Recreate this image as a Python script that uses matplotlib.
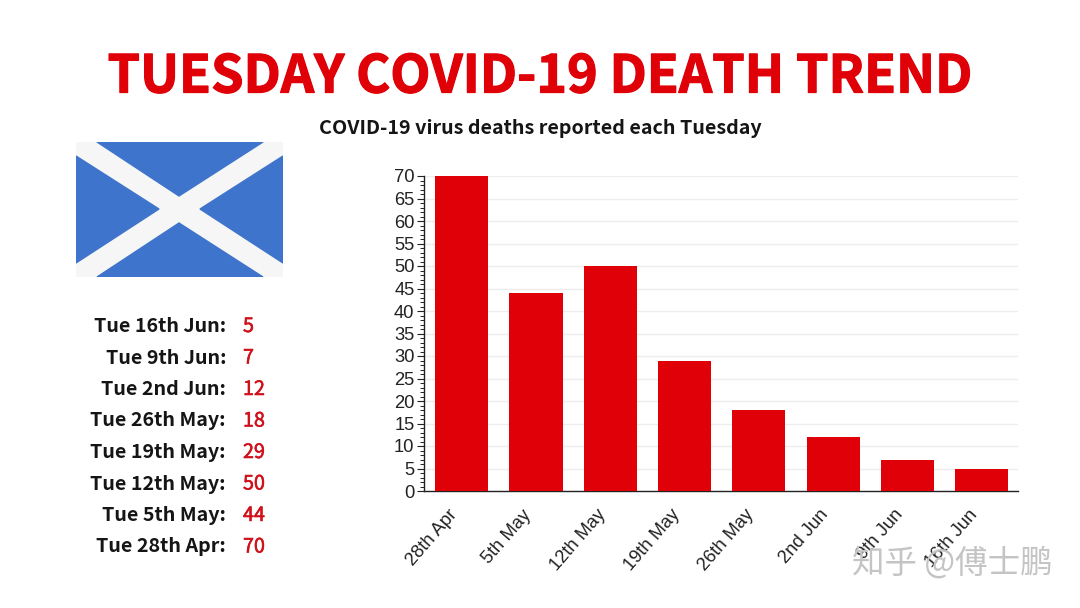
import matplotlib
matplotlib.use('Agg')
import matplotlib.pyplot as plt
import matplotlib.patheffects as pe
from matplotlib.patches import Polygon, Rectangle
from matplotlib.ticker import MultipleLocator
from matplotlib.transforms import ScaledTranslation

W, H = 1080, 608

# chart data
dates = ['28th Apr', '5th May', '12th May', '19th May', '26th May', '2nd Jun', '9th Jun', '16th Jun']
deaths = [70, 44, 50, 29, 18, 12, 7, 5]

# list on the left, newest first
list_dates = ['Tue 16th Jun:', 'Tue 9th Jun:', 'Tue 2nd Jun:', 'Tue 26th May:',
              'Tue 19th May:', 'Tue 12th May:', 'Tue 5th May:', 'Tue 28th Apr:']
list_values = [5, 7, 12, 18, 29, 50, 44, 70]

RED = '#e00007'
CJK = ['Noto Sans CJK SC', 'DejaVu Sans']


# axes from pixel box, y counted from the top of the picture
def px_axes(fig, x0, y0, x1, y1):
    return fig.add_axes([x0 / W, 1 - y1 / H, (x1 - x0) / W, (y1 - y0) / H])


def fig_text(fig, x, y, s, **kw):
    return fig.text(x / W, 1 - y / H, s, **kw)


fig = plt.figure(figsize=(W / 100, H / 100), dpi=100, facecolor='white')

fig_text(fig, 540, 77, 'TUESDAY COVID-19 DEATH TREND', family=CJK, weight='black',
         fontsize=37.5, color=RED, ha='center', va='center',
         path_effects=[pe.withStroke(linewidth=0.9, foreground=RED)])
fig_text(fig, 540, 128, 'COVID-19 virus deaths reported each Tuesday', family=CJK,
         weight='bold', fontsize=14.2, color='#151515', ha='center', va='center')

# bars
ax = px_axes(fig, 423.5, 176, 1018, 491)
x = list(range(len(dates)))
ax.bar(x, deaths, width=0.715, color=RED, zorder=3)
ax.set_xlim(-0.513, 7.487)
ax.set_ylim(0, 70)
ax.yaxis.set_major_locator(MultipleLocator(5))
ax.yaxis.set_minor_locator(MultipleLocator(1))
ax.grid(axis='y', color='#ededed', lw=1, zorder=0)
ax.set_axisbelow(True)
for s in ['top', 'right']:
    ax.spines[s].set_visible(False)
for s in ['left', 'bottom']:
    ax.spines[s].set_color('#222222')
    ax.spines[s].set_linewidth(1)
ax.tick_params(axis='y', which='major', length=5, width=0.8, color='#222222', pad=1.5)
ax.tick_params(axis='y', which='minor', length=3, width=0.7, color='#222222')
ax.tick_params(axis='x', length=0, pad=11)
ax.set_xticks(x)
ax.set_xticklabels(dates, rotation=49, ha='right', va='top', rotation_mode='anchor')
for lab in ax.get_yticklabels():
    lab.set_family('Liberation Sans')
    lab.set_fontsize(13.2)
    lab.set_color('#222222')
shift = ScaledTranslation(-14 / 100, 0, fig.dpi_scale_trans)
for lab in ax.get_xticklabels():
    lab.set_family('Liberation Sans')
    lab.set_fontsize(13.2)
    lab.set_color('#222222')
    lab.set_transform(lab.get_transform() + shift)

# flag
flag = px_axes(fig, 76, 142, 283, 277)
flag.set_xlim(76, 283)
flag.set_ylim(277, 142)
flag.axis('off')
flag.add_patch(Rectangle((76, 142), 207, 135, color='#f6f6f6'))
flag.add_patch(Polygon([(97, 142), (263, 142), (179, 196)], color='#3f74cc'))
flag.add_patch(Polygon([(76, 156), (76, 263), (159, 209)], color='#3f74cc'))
flag.add_patch(Polygon([(283, 156), (283, 263), (200, 209)], color='#3f74cc'))
flag.add_patch(Polygon([(97, 277), (263, 277), (179, 223)], color='#3f74cc'))

# list on the left
for i in range(len(list_dates)):
    y = 326.5 + i * 31.5
    fig_text(fig, 226, y, list_dates[i], family=CJK, weight='bold', fontsize=14.2,
             color='#151515', ha='right', va='center')
    fig_text(fig, 243, y, str(list_values[i]), family=CJK, weight='medium', fontsize=14.2,
             color='#d0101a', ha='left', va='center',
             path_effects=[pe.withStroke(linewidth=0.4, foreground='#d0101a')])

# watermark
fig_text(fig, 952, 563, '知乎 @傅士鹏', family=CJK, fontsize=23.4, color='#c4c4c4',
         ha='center', va='center', zorder=10)

fig.savefig('out.png', dpi=100)
